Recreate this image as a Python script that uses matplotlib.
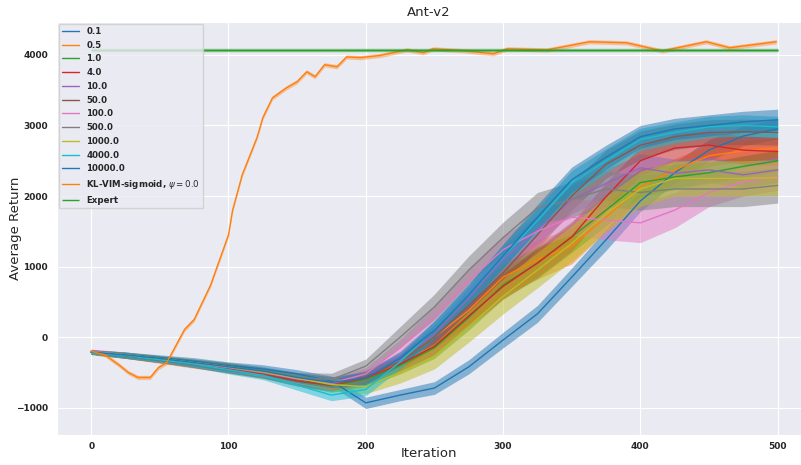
import numpy as np
import matplotlib.pyplot as plt
import seaborn as sns

iters = np.arange(0, 501, 25)

ret_0_1 = [-210, -250, -290, -340, -400, -450, -520, -620, -930, -820, -720, -420, -40, 330, 850, 1380, 1930, 2330, 2650, 2850, 2950]
ret_0_5 = [-210, -260, -320, -380, -440, -510, -590, -660, -600, -350, 0, 380, 850, 1100, 1290, 1700, 2130, 2370, 2570, 2640, 2680]
ret_1_0 = [-210, -255, -310, -370, -440, -520, -620, -690, -600, -400, -150, 280, 740, 1050, 1420, 1800, 2190, 2270, 2330, 2420, 2500]
ret_4_0 = [-210, -260, -320, -380, -450, -520, -620, -680, -580, -380, -130, 300, 720, 1050, 1420, 1990, 2500, 2680, 2720, 2650, 2630]
ret_10 = [-200, -250, -310, -370, -430, -500, -600, -660, -560, -320, 50, 550, 1100, 1520, 1950, 2180, 2400, 2320, 2370, 2300, 2370]
ret_50 = [-210, -260, -320, -380, -440, -510, -600, -680, -560, -350, 0, 450, 910, 1450, 2000, 2450, 2720, 2840, 2900, 2910, 2900]
ret_100 = [-200, -250, -310, -370, -430, -500, -590, -650, -520, -150, 290, 800, 1240, 1500, 1700, 1660, 1620, 1800, 2050, 2200, 2280]
ret_500 = [-210, -255, -310, -360, -420, -490, -570, -600, -410, 0, 430, 950, 1410, 1830, 1950, 2100, 2050, 2100, 2100, 2100, 2150]
ret_1000 = [-210, -250, -300, -360, -420, -490, -580, -670, -700, -500, -270, 150, 580, 950, 1330, 1750, 2100, 2250, 2250, 2250, 2260]
ret_4000 = [-220, -260, -320, -380, -460, -540, -680, -820, -740, -350, 110, 600, 1140, 1650, 2180, 2500, 2800, 2900, 2980, 3000, 2980]
ret_10000 = [-210, -250, -300, -360, -420, -480, -570, -640, -580, -300, 100, 600, 1150, 1700, 2230, 2550, 2840, 2950, 3000, 3050, 3080]

# half width of the shaded band
band_0_1 = [30, 40, 40, 50, 50, 60, 60, 70, 80, 80, 90, 100, 110, 120, 130, 150, 150, 150, 150, 140, 140]
band_0_5 = [30, 40, 50, 60, 60, 60, 70, 80, 80, 100, 150, 200, 250, 280, 250, 200, 180, 160, 150, 150, 150]
band_1_0 = [30, 40, 40, 50, 60, 60, 70, 90, 100, 120, 150, 180, 200, 220, 220, 220, 200, 180, 150, 150, 150]
band_4_0 = [30, 40, 40, 50, 60, 60, 70, 80, 90, 100, 120, 150, 180, 200, 200, 200, 200, 200, 200, 200, 200]
band_10 = [30, 40, 40, 50, 60, 60, 70, 80, 90, 100, 130, 150, 180, 200, 200, 200, 200, 200, 180, 180, 180]
band_50 = [30, 40, 40, 50, 60, 60, 70, 80, 90, 100, 130, 150, 180, 200, 200, 200, 200, 180, 180, 180, 180]
band_100 = [30, 40, 40, 50, 60, 60, 70, 80, 90, 120, 150, 180, 200, 220, 250, 280, 280, 250, 200, 200, 200]
band_500 = [30, 40, 40, 50, 60, 60, 70, 90, 100, 150, 180, 200, 220, 220, 250, 250, 250, 250, 250, 250, 250]
band_1000 = [30, 40, 40, 50, 60, 60, 70, 90, 100, 150, 180, 220, 250, 250, 250, 250, 250, 250, 250, 250, 250]
band_4000 = [30, 40, 40, 50, 60, 60, 70, 80, 90, 100, 130, 150, 170, 180, 180, 170, 160, 150, 150, 150, 150]
band_10000 = [30, 40, 40, 50, 60, 60, 70, 80, 90, 100, 130, 150, 170, 180, 180, 170, 160, 150, 150, 150, 150]

labels = ["0.1", "0.5", "1.0", "4.0", "10.0", "50.0", "100.0", "500.0", "1000.0", "4000.0", "10000.0"]
means = [ret_0_1, ret_0_5, ret_1_0, ret_4_0, ret_10, ret_50, ret_100, ret_500, ret_1000, ret_4000, ret_10000]
bands = [band_0_1, band_0_5, band_1_0, band_4_0, band_10, band_50, band_100, band_500, band_1000, band_4000, band_10000]

# KL-VIM-sigmoid curve, read at irregular iterations
kl_iters = [0, 10, 20, 27, 34, 43, 49, 55, 68, 75, 87, 100, 103, 110, 121, 125, 132, 142, 150, 157, 163,
            170, 179, 186, 196, 210, 230, 242, 249, 270, 293, 303, 332, 363, 390, 416, 448, 465, 499]
kl_ret = [-200, -250, -390, -500, -570, -570, -430, -360, 110, 250, 740, 1450, 1800, 2300, 2840, 3110, 3390,
          3530, 3620, 3760, 3690, 3860, 3830, 3970, 3960, 3990, 4070, 4030, 4085, 4060, 4015, 4085, 4070,
          4185, 4170, 4055, 4185, 4100, 4185]
kl_band = 30

expert_return = 4070

sns.set_style("darkgrid")
fig = plt.figure(figsize=(8.01, 4.65), dpi=100)
ax = fig.add_axes([0.071, 0.065, 0.929, 0.888])

colors = sns.color_palette("tab10")

for k, (lab, m, b) in enumerate(zip(labels, means, bands)):
    c = colors[k % 10]
    m = np.array(m)
    b = np.array(b)
    ax.plot(iters, m, color=c, lw=1.0, label=lab)
    ax.fill_between(iters, m - b, m + b, color=c, alpha=0.5, lw=0)

kl_ret = np.array(kl_ret)
ax.plot(kl_iters, kl_ret, color=colors[1], lw=1.0, label=r"KL-VIM-sigmoid, $\psi = 0.0$")
ax.fill_between(kl_iters, kl_ret - kl_band, kl_ret + kl_band, color=colors[1], alpha=0.4, lw=0)

ax.hlines(expert_return, iters[0], iters[-1], color=colors[2], lw=1.0, label="Expert")
ax.hlines(expert_return, iters[0], iters[-1], color=colors[2], lw=2.5, alpha=0.5)

ax.set_xlim(-25, 517)
ax.set_ylim(-1382, 4467)
ax.set_xticks(np.arange(0, 501, 100))
ax.set_yticks(np.arange(-1000, 4001, 1000))
for t in ax.get_xticklabels() + ax.get_yticklabels():
    t.set_fontweight('bold')
    t.set_fontsize(6.5)
ax.tick_params(axis='x', pad=2)
ax.tick_params(axis='y', pad=3)

ax.set_xlabel("Iteration", fontsize=9.5)
ax.set_ylabel("Average Return", fontsize=9.5)
ax.xaxis.set_label_coords(0.5, -0.03)
ax.yaxis.set_label_coords(-0.047, 0.5)
ax.set_title("Ant-v2", fontsize=9.5, pad=4)

ax.legend(loc="upper left", prop={'weight': 'bold', 'size': 6.2}, borderaxespad=0.2, labelspacing=0.55)

fig.savefig("out.png", dpi=100)
